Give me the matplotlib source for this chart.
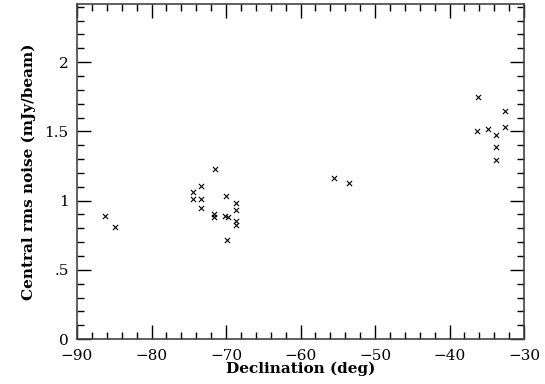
import matplotlib
matplotlib.use("Agg")
import matplotlib.pyplot as plt
from matplotlib.ticker import MultipleLocator, FuncFormatter

# declination (deg) and central rms noise (mJy/beam)
dec = [-86.2, -84.9,
       -71.5, -73.4, -74.4, -74.4, -73.4, -73.4, -70.0,
       -71.6, -71.6, -70.2, -69.8, -68.6, -68.6, -68.7, -68.6, -69.9,
       -55.5, -53.5,
       -36.2, -32.5, -36.35, -34.9, -32.5, -33.7, -33.7, -33.8]
noise = [0.89, 0.81,
         1.23, 1.105, 1.06, 1.01, 1.01, 0.95, 1.03,
         0.90, 0.88, 0.89, 0.885, 0.98, 0.93, 0.85, 0.825, 0.715,
         1.165, 1.13,
         1.75, 1.65, 1.50, 1.52, 1.53, 1.475, 1.39, 1.29]

plt.rcParams['font.family'] = 'DejaVu Serif'

fig = plt.figure(figsize=(5.45, 3.84), dpi=100)
ax = fig.add_axes([0.1413, 0.117, 0.8202, 0.8726])

ax.scatter(dec, noise, marker='x', s=14, c='black', linewidths=0.8)

ax.set_xlim(-90, -30)
ax.set_ylim(0, 2.42)

ax.xaxis.set_major_locator(MultipleLocator(10))
ax.xaxis.set_minor_locator(MultipleLocator(2))
ax.yaxis.set_major_locator(MultipleLocator(0.5))
ax.yaxis.set_minor_locator(MultipleLocator(0.1))

def yfmt(v, pos):
    s = ('%g' % v)
    if s.startswith('0.'):
        s = s[1:]
    return s

def xfmt(v, pos):
    return ('%d' % v).replace('-', '\u2212')

ax.yaxis.set_major_formatter(FuncFormatter(yfmt))
ax.xaxis.set_major_formatter(FuncFormatter(xfmt))

ax.tick_params(which='both', direction='in', top=True, right=True,
               color='black', labelsize=11)
ax.tick_params(which='major', length=10, width=1)
ax.tick_params(which='minor', length=5, width=1)
ax.tick_params(axis='x', which='major', pad=7)
ax.tick_params(axis='y', which='major', pad=6)
for sp in ax.spines.values():
    sp.set_color('#444444')
    sp.set_linewidth(1.2)

ax.set_xlabel('Declination (deg)', fontsize=11, fontweight='bold', labelpad=-1)
ax.set_ylabel('Central rms noise (mJy/beam)', fontsize=11, fontweight='bold', labelpad=6)

fig.savefig('out.png', dpi=100)
